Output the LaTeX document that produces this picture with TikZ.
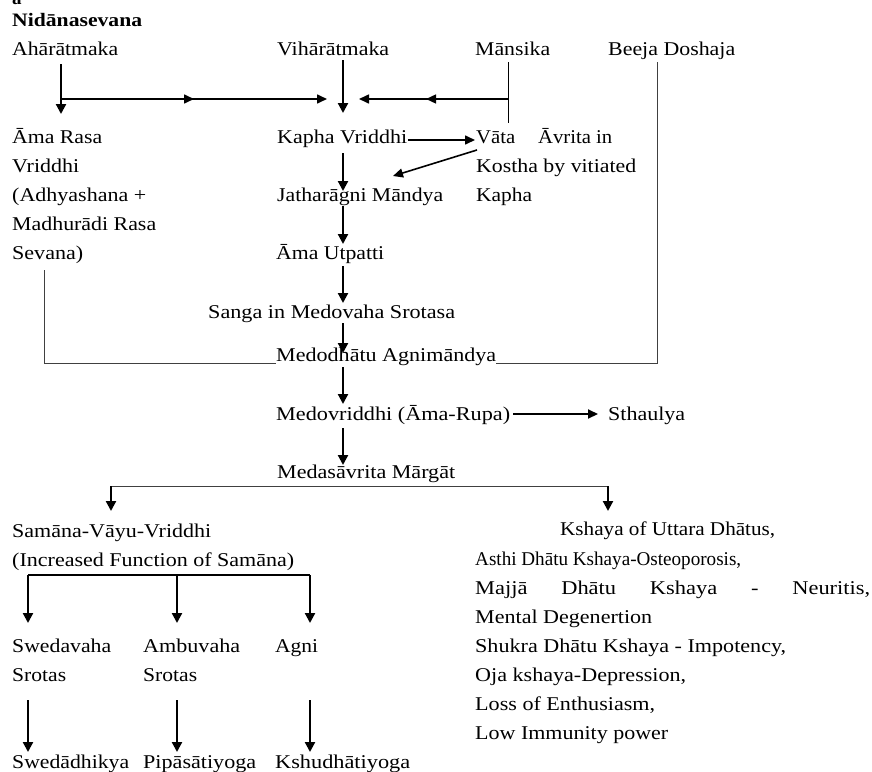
\documentclass[tikz,border=0pt]{standalone}
\usepackage{fontspec}
\setmainfont{Liberation Serif}
\usetikzlibrary{arrows.meta,decorations.markings}
\newcommand\fitw[2]{\resizebox{#1pt}{\height}{#2}}
\newcommand\wdstretch[1]{\scalebox{1.15}[1]{#1}}
\begin{document}
\begin{tikzpicture}[x=1pt,y=-1pt,
  txt/.style={anchor=base west,inner sep=0pt,font=\fontsize{19.5}{23}\selectfont},
  btxt/.style={anchor=base west,inner sep=0pt,font=\bfseries\fontsize{19}{23}\selectfont},
  arr/.style={line width=2.2pt,-{Triangle[length=10pt,width=10pt]}},
  harr/.style={line width=1.6pt,-{Triangle[length=10pt,width=9pt]}},
  thinline/.style={line width=1pt,draw=black!75},
  midarrow/.style={postaction={decorate},decoration={markings,mark=at position #1 with {\arrow{Triangle[length=10pt,width=9pt]}}}}
]
\useasboundingbox (0,0) rectangle (872,771);
\fill[white] (0,0) rectangle (872,771);

% ---- texts ----
\node[btxt] (lbl) at (12,5) {a};
\node[btxt] (nid) at (12,26) {\fitw{130}{Nidānasevana}};
\node[txt] (aha) at (12,55) {\fitw{106}{Ahārātmaka}};
\node[txt] (vih) at (277,55) {\fitw{112}{Vihārātmaka}};
\node[txt] (man) at (475,55) {\fitw{75}{Mānsika}};
\node[txt] (bee) at (608,55) {\fitw{127}{Beeja Doshaja}};

\node[txt] (ar1) at (12,143) {\fitw{90}{Āma Rasa}};
\node[txt] (ar2) at (12,172) {\fitw{67}{Vriddhi}};
\node[txt] (ar3) at (12,201) {\fitw{134}{(Adhyashana +}};
\node[txt] (ar4) at (12,230) {\fitw{144}{Madhurādi Rasa}};
\node[txt] (ar5) at (12,259) {\fitw{71}{Sevana)}};

\node[txt] (kv) at (277,143) {\fitw{130}{Kapha Vriddhi}};
\node[txt] (va1) at (476,143) {\fitw{136}{Vāta\hspace{1.1em}Āvrita in}};
\node[txt] (va2) at (476,172) {\fitw{160}{Kostha by vitiated}};
\node[txt] (va3) at (476,201) {\fitw{56}{Kapha}};
\node[txt] (jm) at (277,201) {\fitw{166}{Jatharāgni Māndya}};
\node[txt] (au) at (276,259) {\fitw{108}{Āma Utpatti}};
\node[txt] (sg) at (208,318) {\fitw{247}{Sanga in Medovaha Srotasa}};
\node[txt] (ma) at (276,361) {\fitw{220}{Medodhātu Agnimāndya}};
\node[txt] (mv) at (276,420) {\fitw{234}{Medovriddhi (Āma-Rupa)}};
\node[txt] (sth) at (608,420) {\fitw{77}{Sthaulya}};
\node[txt] (mm) at (277,478) {\fitw{178}{Medasāvrita Mārgāt}};

\node[txt] (sv1) at (12,537) {\fitw{199}{Samāna-Vāyu-Vriddhi}};
\node[txt] (sv2) at (12,566) {\fitw{282}{(Increased Function of Samāna)}};

\node[txt] (sw1) at (12,652) {\fitw{99}{Swedavaha}};
\node[txt] (sw2) at (12,681) {\fitw{54}{Srotas}};
\node[txt] (am1) at (143,652) {\fitw{97}{Ambuvaha}};
\node[txt] (am2) at (143,681) {\fitw{54}{Srotas}};
\node[txt] (ag) at (275,652) {\fitw{43}{Agni}};
\node[txt] (sw3) at (12,768) {\fitw{117}{Swedādhikya}};
\node[txt] (am3) at (143,768) {\fitw{113}{Pipāsātiyoga}};
\node[txt] (ag3) at (275,768) {\fitw{135}{Kshudhātiyoga}};

\node[txt] (k1) at (560,535) {\fitw{215}{Kshaya of Uttara Dhātus,}};
\node[txt] (k2) at (475,565) {\fitw{266}{Asthi Dhātu Kshaya-Osteoporosis,}};
\node[txt] (k3) at (475,594) {\hbox to 395pt{\wdstretch{Majjā}\hfill \wdstretch{Dhātu}\hfill \wdstretch{Kshaya}\hfill \wdstretch{-}\hfill \wdstretch{Neuritis,}}};
\node[txt] (k4) at (475,623) {\fitw{177}{Mental Degenertion}};
\node[txt] (k5) at (475,652) {\fitw{311}{Shukra Dhātu Kshaya - Impotency,}};
\node[txt] (k6) at (475,681) {\fitw{211}{Oja kshaya-Depression,}};
\node[txt] (k7) at (475,710) {\fitw{180}{Loss of Enthusiasm,}};
\node[txt] (k8) at (475,739) {\fitw{193}{Low Immunity power}};

% ---- junction coordinates ----
\coordinate (ahaS) at (61,64);
\coordinate (ahaE) at (61,114);
\coordinate (hj) at (61,99);
\coordinate (ctrL) at (327,99);
\coordinate (vihS) at (343,60);
\coordinate (ctrT) at (343,113);
\coordinate (manT) at (508,62);
\coordinate (manB) at (508,123);
\coordinate (manJ) at (508,99);
\coordinate (ctrR) at (359,99);
\coordinate (kvE) at (408,140);
\coordinate (vaW) at (475,140);
\coordinate (vaD) at (477,150);
\coordinate (jmT) at (393,176);
\coordinate (c1) at (343,153);
\coordinate (c2) at (343,191);
\coordinate (c3) at (343,206);
\coordinate (c4) at (343,244);
\coordinate (c5) at (343,266);
\coordinate (c6) at (343,303);
\coordinate (c7) at (343,323);
\coordinate (c8) at (343,353);
\coordinate (c9) at (343,367);
\coordinate (c10) at (343,404);
\coordinate (c11) at (343,428);
\coordinate (c12) at (343,465);
\coordinate (lt) at (44,270);
\coordinate (lb) at (44,363);
\coordinate (lr) at (276,363);
\coordinate (bt) at (657,62);
\coordinate (bb) at (657,363);
\coordinate (bl) at (496,363);
\coordinate (brL) at (111,486);
\coordinate (brR) at (608,486);
\coordinate (brLe) at (111,511);
\coordinate (brRe) at (608,511);
\coordinate (s1) at (28,575);
\coordinate (s2) at (177,575);
\coordinate (s3) at (310,575);

% ---- connectors ----
\draw[arr] (ahaS) -- (ahaE);
\draw[harr,midarrow=0.5] (hj) -- (ctrL);
\draw[arr] (vihS) -- (ctrT);
\draw[line width=1pt] (manT) -- (manB);
\draw[harr,midarrow=0.55] (manJ) -- (ctrR);
\draw[harr] (kvE) -- (vaW);
\draw[harr] (vaD) -- (jmT);
\draw[arr] (c1) -- (c2);
\draw[arr] (c3) -- (c4);
\draw[arr] (c5) -- (c6);
\draw[arr] (c7) -- (c8);
\draw[arr] (c9) -- (c10);
\draw[arr] (c11) -- (c12);
\draw[harr,line width=2pt] ([xshift=3pt,yshift=6pt]mv.base east) -- ([xshift=-10pt,yshift=6pt]sth.base west);
\draw[thinline] (lt) -- (lb) -- (lr);
\draw[thinline] (bt) -- (bb) -- (bl);
\draw[thinline] (brL) -- (brR);
\draw[arr] (brL) -- (brLe);
\draw[arr] (brR) -- (brRe);
\draw[line width=1.2pt] (s1) -- (s3);
\draw[arr] (s1) -- (28,623);
\draw[arr] (s2) -- (177,623);
\draw[arr] (s3) -- (310,623);
\draw[arr] (28,700) -- (28,752);
\draw[arr] (177,700) -- (177,752);
\draw[arr] (310,700) -- (310,752);
\end{tikzpicture}
\end{document}
